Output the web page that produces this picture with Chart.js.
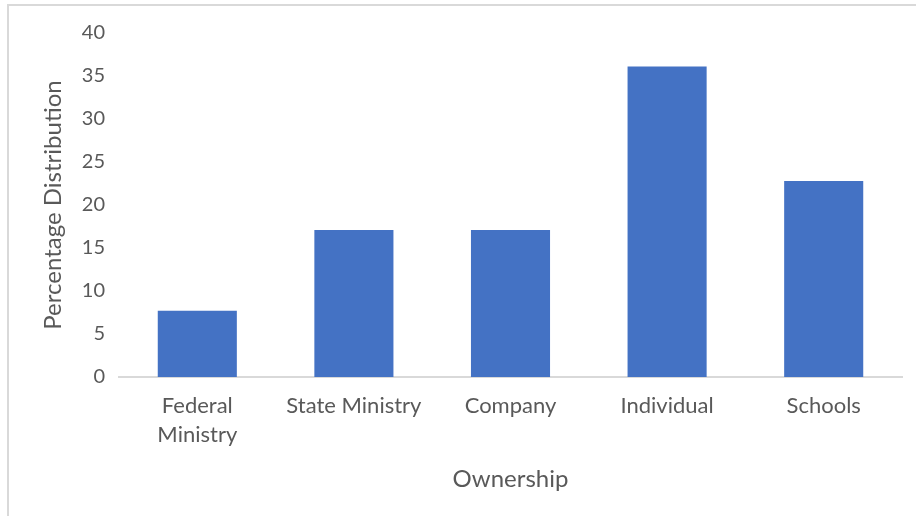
<!DOCTYPE html>
<html>
<head>
<meta charset="utf-8">
<script src="https://cdn.jsdelivr.net/npm/chart.js@4"></script>
<style>
  html, body { margin: 0; padding: 0; background: #fff; }
  #wrap { position: relative; width: 916px; height: 516px; overflow: hidden; }
  #frame { position: absolute; left: 7px; top: 4px; width: 920px; height: 520px;
           border-top: 2px solid #d9d9d9; border-left: 2px solid #d9d9d9; box-sizing: border-box; }
  canvas { position: absolute; left: 0; top: 0; }
</style>
</head>
<body>
<div id="wrap">
  <div id="frame"></div>
  <canvas id="c" width="916" height="516"></canvas>
</div>
<script>
const categories = [['Federal', 'Ministry'], 'State Ministry', 'Company', 'Individual', 'Schools'];
const values = [7.7, 17.1, 17.1, 36.1, 22.8];
const yTicks = [0, 5, 10, 15, 20, 25, 30, 35, 40];
const xTitle = 'Ownership';
const yTitle = 'Percentage Distribution';

const textColor = '#595959';
const fontFamily = 'Lato, "Open Sans", sans-serif';

new Chart(document.getElementById('c'), {
  type: 'bar',
  data: {
    labels: categories,
    datasets: [{
      data: values,
      backgroundColor: '#4472C4',
      borderWidth: 0,
      categoryPercentage: 1.0,
      barPercentage: 0.505
    }]
  },
  options: {
    responsive: false,
    animation: false,
    devicePixelRatio: 1,
    layout: { padding: { top: 33, right: 14, bottom: 0, left: 0 } },
    plugins: { legend: { display: false }, tooltip: { enabled: false } },
    scales: {
      x: {
        grid: { display: false, drawTicks: false },
        border: { display: true, color: '#d9d9d9', width: 2 },
        ticks: { color: textColor, font: { family: fontFamily, size: 22, lineHeight: 1.32 }, padding: 14, maxRotation: 0, autoSkip: false },
        title: { display: true, text: xTitle, color: textColor, font: { family: fontFamily, size: 24, lineHeight: 1.2 }, padding: { top: 0, bottom: 22 } },
        afterFit: (s) => { s.height = 139; }
      },
      y: {
        min: 0, max: 40,
        afterBuildTicks: (s) => { s.ticks = yTicks.map(v => ({ value: v })); },
        grid: { display: false, drawTicks: false },
        border: { display: false },
        ticks: { color: textColor, font: { family: fontFamily, size: 20 }, padding: 14 },
        title: { display: true, text: yTitle, color: textColor, font: { family: fontFamily, size: 24, lineHeight: 1.2 }, padding: { top: 39, bottom: 0 } },
        afterFit: (s) => { s.width = 119; }
      }
    }
  }
});
</script>
</body>
</html>
